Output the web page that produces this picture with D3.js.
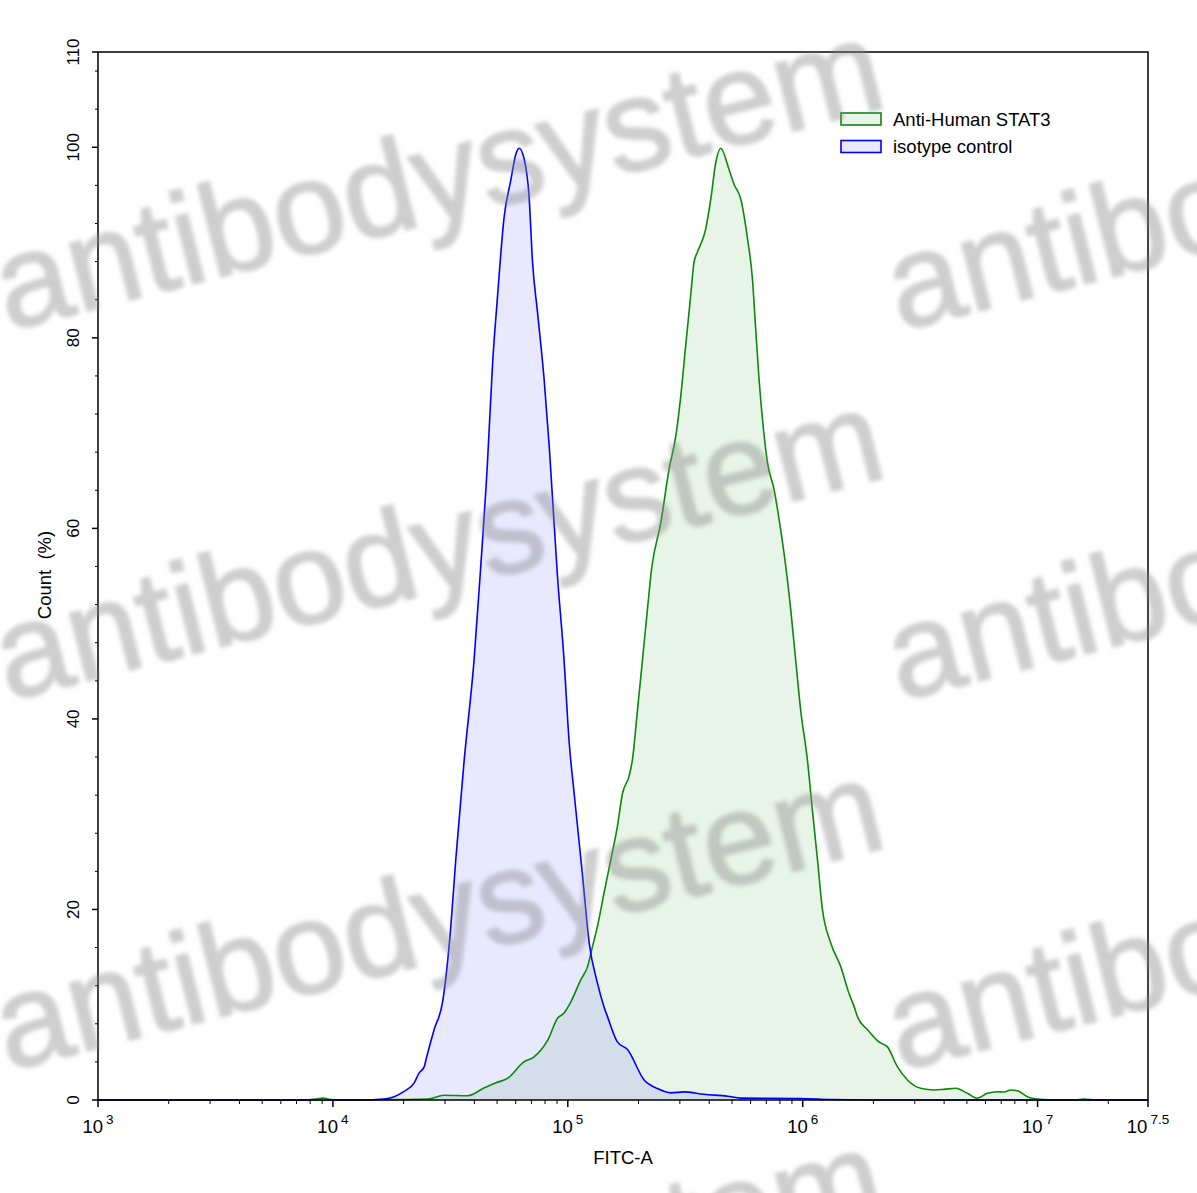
<!DOCTYPE html>
<html>
<head>
<meta charset="utf-8">
<script src="https://cdn.jsdelivr.net/npm/d3@7"></script>
<style>
  html, body { margin: 0; padding: 0; background: #fff; }
  svg { display: block; font-family: "Liberation Sans", Arial, Helvetica, sans-serif; }
</style>
</head>
<body>
<svg id="chart" width="1197" height="1193"></svg>
<script>
// ---------- data (log10 of FITC-A intensity, count %) ----------
const isoLog = [3.000, 4.119, 4.218, 4.261, 4.303, 4.346, 4.366, 4.389, 4.396, 4.431, 4.467, 4.502, 4.523, 4.559, 4.601, 4.628, 4.658, 4.680, 4.701, 4.729, 4.757, 4.779, 4.793, 4.814, 4.835, 4.850, 4.871, 4.899, 4.921, 4.956, 4.984, 5.006, 5.027, 5.063, 5.091, 5.126, 5.154, 5.169, 5.211, 5.254, 5.325, 5.382, 5.439, 5.495, 5.579, 5.681, 5.736, 5.991, 6.119, 6.289, 7.470];
const isoCount = [0, 0, 0.1, 0.35, 0.9, 1.8, 2.8, 3.5, 4.2, 7.4, 10.3, 18.2, 25.2, 35.7, 46.2, 55.5, 66.9, 77.4, 84.4, 92.7, 96.5, 99.3, 99.9, 98.8, 94.9, 87.9, 82.7, 75.7, 68.6, 55.0, 46.2, 37.5, 32.2, 23.5, 16.5, 12.3, 9.8, 8.75, 6.1, 5.3, 2.1, 1.2, 0.75, 0.85, 0.6, 0.4, 0.2, 0.15, 0.05, 0, 0];

const statLog = [3.000, 3.864, 3.928, 3.957, 3.991, 4.055, 4.289, 4.404, 4.472, 4.574, 4.643, 4.694, 4.745, 4.813, 4.855, 4.915, 4.957, 4.983, 5.013, 5.055, 5.084, 5.105, 5.126, 5.154, 5.183, 5.211, 5.233, 5.261, 5.275, 5.297, 5.318, 5.339, 5.357, 5.396, 5.431, 5.460, 5.481, 5.502, 5.523, 5.537, 5.552, 5.587, 5.609, 5.630, 5.651, 5.686, 5.708, 5.736, 5.765, 5.786, 5.800, 5.814, 5.833, 5.850, 5.878, 5.906, 5.928, 5.949, 5.970, 5.991, 6.020, 6.041, 6.063, 6.084, 6.119, 6.162, 6.197, 6.219, 6.233, 6.275, 6.324, 6.360, 6.403, 6.446, 6.502, 6.559, 6.601, 6.651, 6.701, 6.743, 6.786, 6.829, 6.857, 6.885, 6.914, 6.956, 6.999, 7.055, 7.162, 7.197, 7.247, 7.470];
const statCount = [0, 0, 0.1, 0.2, 0.05, 0, 0.05, 0.1, 0.5, 0.45, 1.25, 1.8, 2.3, 4.0, 4.5, 6.3, 8.6, 9.1, 10.3, 12.6, 14.0, 16.1, 18.2, 21.7, 25.2, 28.7, 32.2, 34.0, 35.7, 41.0, 46.2, 51.5, 55.8, 60.6, 66.2, 69.7, 73.9, 79.2, 84.4, 87.9, 89.0, 91.4, 94.6, 98.4, 99.9, 97.7, 96.1, 94.6, 90.4, 86.2, 80.9, 75.7, 70.4, 66.9, 64.1, 59.9, 56.0, 51.5, 46.2, 41.0, 35.7, 30.5, 25.2, 20.0, 16.5, 14.0, 11.2, 9.8, 8.75, 7.4, 6.1, 5.6, 3.5, 2.1, 1.23, 1.05, 1.12, 1.23, 0.7, 0.18, 0.7, 0.87, 0.84, 1.05, 0.98, 0.35, 0.1, 0.02, 0, 0.1, 0, 0];

const yMajorTicks = [0, 20, 40, 60, 80, 100, 110];
const xDecades = [3, 4, 5, 6, 7];
const xEndExponent = "7.5";
const seriesNames = ["Anti-Human STAT3", "isotype control"];
const watermarkWord = "antibodysystem";

// ---------- layout ----------
const svg = d3.select("#chart");
const xMaxLog = 7.47;
const x = d3.scaleLog().domain([1e3, Math.pow(10, xMaxLog)]).range([98, 1148]);
const y = d3.scaleLinear().domain([0, 110]).range([1100, 52]);

const toPts = (L, C) => L.map((l, i) => ({ v: Math.pow(10, l), c: C[i] }));
const iso = toPts(isoLog, isoCount);
const stat = toPts(statLog, statCount);

const area = d3.area().x(d => x(d.v)).y0(y(0)).y1(d => y(d.c)).curve(d3.curveMonotoneX);
const line = d3.line().x(d => x(d.v)).y(d => y(d.c)).curve(d3.curveMonotoneX);

const plot = svg.append("g");
plot.append("path").datum(stat).attr("d", area).attr("fill", "rgb(0,128,0)").attr("fill-opacity", 0.09);
plot.append("path").datum(iso).attr("d", area).attr("fill", "rgb(0,0,255)").attr("fill-opacity", 0.09);
plot.append("path").datum(stat).attr("d", line).attr("fill", "none").attr("stroke", "#0a8a0a").attr("stroke-width", 1.6);
plot.append("path").datum(iso).attr("d", line).attr("fill", "none").attr("stroke", "#0000ff").attr("stroke-width", 1.6);

// ---------- frame ----------
const [x0, x1] = x.range();
const [yb, yt] = y.range();
svg.append("rect").attr("x", x0).attr("y", yt).attr("width", x1 - x0).attr("height", yb - yt)
  .attr("fill", "none").attr("stroke", "#000").attr("stroke-width", 1.5);

// ---------- y axis ----------
const yAx = svg.append("g");
const yMinor = d3.range(4, 110, 4).filter(v => v % 20 !== 0);
yAx.selectAll("line.minor").data(yMinor).join("line")
  .attr("x1", x0 - 3).attr("x2", x0).attr("y1", d => y(d)).attr("y2", d => y(d))
  .attr("stroke", "#000").attr("stroke-width", 1);
yAx.selectAll("line.major").data(yMajorTicks).join("line")
  .attr("x1", x0 - 6).attr("x2", x0).attr("y1", d => y(d)).attr("y2", d => y(d))
  .attr("stroke", "#000").attr("stroke-width", 1.5);
yAx.selectAll("text").data(yMajorTicks).join("text")
  .attr("transform", d => `translate(${x0 - 19},${y(d)}) rotate(-90)`)
  .attr("text-anchor", "middle").attr("font-size", 17).attr("fill", "#000")
  .text(d => d);
svg.append("text").attr("transform", `translate(51,575) rotate(-90)`)
  .attr("text-anchor", "middle").attr("font-size", 18.5).attr("fill", "#000")
  .attr("xml:space", "preserve").text("Count  (%)");

// ---------- x axis ----------
const xAx = svg.append("g");
const xMinor = [];
xDecades.forEach(e => { for (let m = 2; m <= 9; m++) { const v = m * Math.pow(10, e); if (v < x.domain()[1]) xMinor.push(v); } });
xAx.selectAll("line.minor").data(xMinor).join("line")
  .attr("x1", d => x(d)).attr("x2", d => x(d)).attr("y1", yb).attr("y2", yb + 4)
  .attr("stroke", "#000").attr("stroke-width", 1);
const xMajor = xDecades.map(e => ({ v: Math.pow(10, e), lab: String(e) }))
  .concat([{ v: x.domain()[1], lab: xEndExponent }]);
xAx.selectAll("line.major").data(xMajor).join("line")
  .attr("x1", d => x(d.v)).attr("x2", d => x(d.v)).attr("y1", yb).attr("y2", yb + 7)
  .attr("stroke", "#000").attr("stroke-width", 1.5);
const xl = xAx.selectAll("text").data(xMajor).join("text")
  .attr("x", d => x(d.v)).attr("y", 1133).attr("text-anchor", "middle").attr("fill", "#000");
xl.append("tspan").attr("font-size", 18.5).text("10");
xl.append("tspan").attr("font-size", 13.5).attr("dx", 3).attr("dy", -9).text(d => d.lab);
svg.append("text").attr("x", 623).attr("y", 1164).attr("text-anchor", "middle")
  .attr("font-size", 18.5).attr("fill", "#000").text("FITC-A");

// ---------- legend ----------
const leg = svg.append("g");
const legFill = ["rgba(0,128,0,0.09)", "rgba(0,0,255,0.09)"];
const legStroke = ["#0a8a0a", "#0000ff"];
seriesNames.forEach((name, i) => {
  const yy = 113 + i * 27.5;
  leg.append("rect").attr("x", 841).attr("y", yy).attr("width", 40).attr("height", 12)
    .attr("fill", legFill[i]).attr("stroke", legStroke[i]).attr("stroke-width", 1.6);
  leg.append("text").attr("x", 893).attr("y", yy + 12.5).attr("font-size", 18.5).attr("fill", "#000").text(name);
});

// ---------- watermark ----------
const defs = svg.append("defs");
defs.append("filter").attr("id", "blur").append("feGaussianBlur").attr("stdDeviation", 2.2);
const wm = svg.append("g").attr("filter", "url(#blur)").attr("opacity", 0.42);
[331, 701, 1071, 1441].forEach(by => {
  [8, 900].forEach(bx => {
    wm.append("text").attr("transform", `translate(${bx},${by}) rotate(-14.3)`)
      .attr("font-size", 131).attr("fill", "#8a8a8a")
      .attr("stroke", "#8a8a8a").attr("stroke-width", 2).text(watermarkWord);
  });
});
</script>
</body>
</html>
